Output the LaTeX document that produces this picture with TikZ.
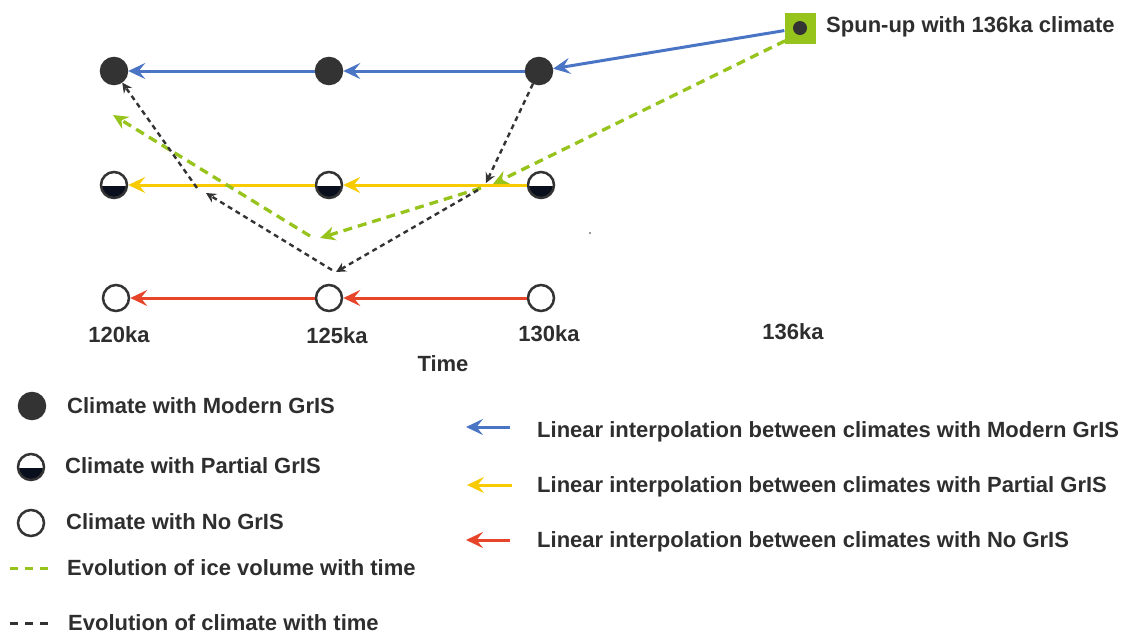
\documentclass[tikz,border=0pt]{standalone}
\usepackage{fontspec}
\setmainfont{Liberation Sans}
\usetikzlibrary{arrows.meta,calc}
\definecolor{dk}{HTML}{333333}
\definecolor{navy}{HTML}{0A0F1E}
\definecolor{bl}{HTML}{4A74C4}
\definecolor{yl}{HTML}{F7CB00}
\definecolor{rd}{HTML}{E6452A}
\definecolor{gr}{HTML}{97C31D}
\definecolor{txt}{HTML}{2E2E2E}
\begin{document}
\begin{tikzpicture}[x=1pt,y=-1pt,
  full/.style={circle,draw=dk,fill=dk,line width=2.5pt,minimum size=26pt,inner sep=0pt},
  part/.style={circle,draw=dk,fill=white,line width=2.5pt,minimum size=26pt,inner sep=0pt,
    path picture={\fill[navy] ([yshift=-1pt]path picture bounding box.west) rectangle (path picture bounding box.south east);}},
  nogris/.style={circle,draw=dk,fill=white,line width=2.5pt,minimum size=26pt,inner sep=0pt},
  interp/.style={line width=3pt,-{Stealth[length=17pt,width=16pt,inset=6.5pt]}},
  gdash/.style={draw=gr,line width=3.3pt,dash pattern=on 9pt off 6pt,-{Stealth[length=15pt,width=14pt,inset=5pt]}},
  kdash/.style={draw=dk,line width=2.4pt,dash pattern=on 5pt off 4pt,-{Stealth[length=10pt,width=10pt,inset=3.5pt]}},
  legdash/.style={line width=3pt,dash pattern=on 8pt off 7pt},
  lbl/.style={font=\fontsize{22}{26}\selectfont\bfseries,text=txt,inner sep=0pt}]
\useasboundingbox (0,0) rectangle (1122,633);

% climate nodes
\node[full] (m120) at (114,71) {};
\node[full] (m125) at (329,71) {};
\node[full] (m130) at (539,71) {};
\node[part] (p120) at (114,185) {};
\node[part] (p125) at (329,185) {};
\node[part] (p130) at (541,185) {};
\node[nogris] (n120) at (116,298) {};
\node[nogris] (n125) at (329,298) {};
\node[nogris] (n130) at (541,298) {};

% spun-up square
\node[fill=gr,minimum size=31pt,inner sep=0pt] (sq) at (800,28) {};
\fill[dk] (sq.center) circle (7pt);
\node[lbl,anchor=base west] (spun) at (826,32) {Spun-up with 136ka climate};

% interpolation arrows
\draw[interp,draw=bl,fill=bl] (sq) -- (m130);
\draw[interp,draw=bl,fill=bl] (m130) -- (m125);
\draw[interp,draw=bl,fill=bl] (m125) -- (m120);
\draw[interp,draw=yl,fill=yl] (p130) -- (p125);
\draw[interp,draw=yl,fill=yl] (p125) -- (p120);
\draw[interp,draw=rd,fill=rd] (n130) -- (n125);
\draw[interp,draw=rd,fill=rd] (n125) -- (n120);

% evolution of ice volume
\coordinate (gD) at (493,184);
\coordinate (gD2) at (481,188);
\coordinate (gE) at (320,238);
\coordinate (gE2) at (310,236);
\coordinate (gF) at (113,115);
\draw[gdash] ($(sq.south west)+(1,-3)$) -- (gD);
\draw[gdash] (gD2) -- (gE);
\draw[gdash] (gE2) -- (gF);

% evolution of climate
\coordinate (kA) at (486,183);
\coordinate (kA2) at (478,190);
\coordinate (kB) at (336,272);
\coordinate (kB2) at (332,270);
\coordinate (kC) at (206,193);
\coordinate (kC2) at (197,188);
\draw[kdash] (m130) -- (kA);
\draw[kdash] (kA2) -- (kB);
\draw[kdash] (kB2) -- (kC);
\draw[kdash] (kC2) -- (m120);

% stray dot
\fill[dk] (590,233) circle (0.9pt);

% axis labels
\node[lbl,anchor=base] (t120) at (119,342) {120ka};
\node[lbl,anchor=base] (t125) at (337,343) {125ka};
\node[lbl,anchor=base] (t130) at (549,341) {130ka};
\node[lbl,anchor=base] (t136) at (793,339) {136ka};
\node[lbl,anchor=base] (time) at (443,371) {Time};

% left legend
\node[full] (lm) at (32,406) {};
\node[lbl,anchor=base west] (lmt) at (67,413) {Climate with Modern GrIS};
\node[part] (lp) at (31,467) {};
\node[lbl,anchor=base west] (lpt) at (65,473) {Climate with Partial GrIS};
\node[nogris] (ln) at (31,523) {};
\node[lbl,anchor=base west] (lnt) at (66,529) {Climate with No GrIS};
\coordinate (lg1) at (10,568);
\coordinate (lg2) at (52,568);
\draw[legdash,draw=gr] (lg1) -- (lg2);
\node[lbl,anchor=base west] (lgt) at (67,575) {Evolution of ice volume with time};
\coordinate (lk1) at (10,623);
\coordinate (lk2) at (52,623);
\draw[legdash,draw=dk] (lk1) -- (lk2);
\node[lbl,anchor=base west] (lkt) at (68,630) {Evolution of climate with time};

% right legend
\coordinate (rb1) at (510,427);
\coordinate (rb2) at (466,427);
\draw[interp,draw=bl,fill=bl] (rb1) -- (rb2);
\node[lbl,anchor=base west] (rbt) at (537,437) {Linear interpolation between climates with Modern GrIS};
\coordinate (ry1) at (512,485);
\coordinate (ry2) at (467,485);
\draw[interp,draw=yl,fill=yl] (ry1) -- (ry2);
\node[lbl,anchor=base west] (ryt) at (537,492) {Linear interpolation between climates with Partial GrIS};
\coordinate (rr1) at (510,540);
\coordinate (rr2) at (466,540);
\draw[interp,draw=rd,fill=rd] (rr1) -- (rr2);
\node[lbl,anchor=base west] (rrt) at (537,547) {Linear interpolation between climates with No GrIS};
\end{tikzpicture}
\end{document}
